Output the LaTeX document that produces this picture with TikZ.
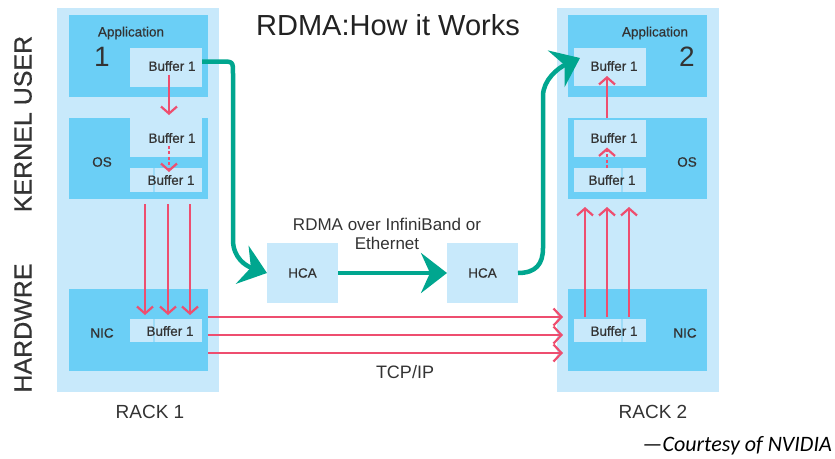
\documentclass[tikz,border=0pt]{standalone}
\usepackage{fontspec}
\setmainfont{Liberation Sans}
\newfontfamily\medfont[FakeBold=0.5]{Liberation Sans}
\newfontfamily\calfont{Carlito}
\usetikzlibrary{arrows.meta}
\definecolor{rackblue}{HTML}{C8E9FB}
\definecolor{layerblue}{HTML}{6BCFF6}
\definecolor{bufblue}{HTML}{C8E9FB}
\definecolor{seamblue}{HTML}{9EDCF8}
\definecolor{flowteal}{HTML}{00A68F}
\definecolor{copyred}{HTML}{EE4E6F}
\definecolor{ink}{HTML}{333333}
\definecolor{darkink}{HTML}{222222}
\newcommand{\fsz}[1]{\fontsize{#1}{#1}\selectfont}

\begin{document}
\begin{tikzpicture}[x=1pt,y=-1pt,
  area/.style={draw=none, anchor=north west, inner sep=0pt, outer sep=0pt},
  rackbox/.style={area, fill=rackblue},
  layerbox/.style={area, fill=layerblue},
  bufbox/.style={area, fill=bufblue},
  hcabox/.style={area, fill=bufblue},
  smalltxt/.style={text=ink, font=\medfont\fsz{13.5}, inner sep=0pt},
  bigtxt/.style={text=ink, font=\fsz{18}, inner sep=0pt},
  sidetxt/.style={text=ink, font=\medfont\fsz{25}, inner sep=0pt, rotate=90},
  seam/.style={draw=seamblue, line width=1.2pt},
  copyflow/.style={draw=copyred, line width=2.2pt, -{Straight Barb[length=7pt,width=16pt]}},
  copydash/.style={copyflow, dash pattern=on 3pt off 2.5pt},
  wireflow/.style={draw=copyred, line width=2.2pt, -{Straight Barb[length=8pt,width=17pt]}},
  rdmaflow/.style={draw=flowteal, line width=4.5pt, -{Stealth[length=26pt,width=40pt,inset=9pt]}}
]
\useasboundingbox[fill=white] (0,0) rectangle (835,458);

% title
\node[text=darkink, font=\fsz{29}, inner sep=0pt] (title) at (388,25) {RDMA:How it Works};

% side labels
\node[sidetxt] (kuser) at (23,124) {KERNEL USER};
\node[sidetxt] (hw) at (23,328) {HARDWRE};

% ---------- rack 1 ----------
\node[rackbox, minimum width=162pt, minimum height=384pt] (rack1) at (57,8) {};
\node[layerbox, minimum width=139pt, minimum height=82pt] (app1) at (69,15) {};
\node[layerbox, minimum width=139pt, minimum height=81pt] (os1) at (69,118) {};
\node[layerbox, minimum width=139pt, minimum height=82pt] (nic1) at (69,289) {};
\node[bufbox, minimum width=72pt, minimum height=39pt] (appbuf1) at (130,48) {};
\node[bufbox, minimum width=72pt, minimum height=39pt] (osbuf1a) at (130,118) {};
\node[bufbox, minimum width=72pt, minimum height=24pt] (osbuf1b) at (130,168) {};
\node[bufbox, minimum width=72pt, minimum height=23pt] (nicbuf1) at (130,319) {};
\draw[seam] (154,0 |- osbuf1b.north) -- (154,0 |- osbuf1b.south);
\draw[seam] (154,0 |- nicbuf1.north) -- (154,0 |- nicbuf1.south);

\node[smalltxt] (applbl1) at (131,33) {Application};
\node[text=ink, font=\fsz{28}, inner sep=0pt] (appno1) at (102,57) {1};
\node[smalltxt] (oslbl1) at (102,162) {OS};
\node[smalltxt] (niclbl1) at (102,333) {NIC};
\node[smalltxt] (appbuftxt1) at (172,66) {Buffer 1};
\node[smalltxt] (osbuftxta1) at (172,138) {Buffer 1};
\node[smalltxt] (osbuftxtb1) at (171,180) {Buffer 1};
\node[smalltxt] (nicbuftxt1) at (170,331) {Buffer 1};
\node[text=ink, font=\fsz{19}, inner sep=0pt] (rack1lbl) at (150,412) {RACK 1};

% ---------- rack 2 ----------
\node[rackbox, minimum width=162pt, minimum height=384pt] (rack2) at (557,8) {};
\node[layerbox, minimum width=139pt, minimum height=82pt] (app2) at (568,15) {};
\node[layerbox, minimum width=139pt, minimum height=81pt] (os2) at (568,118) {};
\node[layerbox, minimum width=139pt, minimum height=82pt] (nic2) at (568,289) {};
\node[bufbox, minimum width=72pt, minimum height=38pt] (appbuf2) at (574,48) {};
\node[bufbox, minimum width=72pt, minimum height=37pt] (osbuf2a) at (574,120) {};
\node[bufbox, minimum width=72pt, minimum height=24pt] (osbuf2b) at (574,168) {};
\node[bufbox, minimum width=72pt, minimum height=23pt] (nicbuf2) at (574,319) {};
\draw[seam] (622,0 |- osbuf2b.north) -- (622,0 |- osbuf2b.south);
\draw[seam] (622,0 |- nicbuf2.north) -- (622,0 |- nicbuf2.south);

\node[smalltxt] (applbl2) at (655,33) {Application};
\node[text=ink, font=\fsz{28}, inner sep=0pt] (appno2) at (687,57) {2};
\node[smalltxt] (oslbl2) at (687,162) {OS};
\node[smalltxt] (niclbl2) at (685,333) {NIC};
\node[smalltxt] (appbuftxt2) at (614,66) {Buffer 1};
\node[smalltxt] (osbuftxta2) at (614,138) {Buffer 1};
\node[smalltxt] (osbuftxtb2) at (612,180) {Buffer 1};
\node[smalltxt] (nicbuftxt2) at (614,331) {Buffer 1};
\node[text=ink, font=\fsz{19}, inner sep=0pt] (rack2lbl) at (653,412) {RACK 2};

% ---------- host channel adapters ----------
\node[hcabox, minimum width=71pt, minimum height=60pt] (hca1) at (267,243) {};
\node[hcabox, minimum width=71pt, minimum height=60pt] (hca2) at (447,243) {};
\node[smalltxt] (hcatxt1) at (hca1.center) {HCA};
\node[smalltxt] (hcatxt2) at (hca2.center) {HCA};

% ---------- copies through the kernel (TCP/IP path) ----------
\draw[copyflow, shorten <=7pt, shorten >=3pt] (169,0 |- appbuf1.center) -- (169,0 |- os1.north);
\draw[copydash, shorten <=8pt, shorten >=8pt] (169,0 |- osbuf1a.center) -- (169,0 |- osbuf1b.center);
\foreach \xx in {145,168,190}
  \draw[copyflow, shorten <=5pt, shorten >=4pt] (\xx,0 |- os1.south) -- (\xx,0 |- nicbuf1.north);

\foreach \yy in {317,335,353}
  \draw[wireflow, shorten >=5pt] (nic1.east |- 0,\yy) -- (nic2.west |- 0,\yy);

\foreach \xx in {585,607,629}
  \draw[copyflow, shorten <=2pt, shorten >=8pt] (\xx,0 |- nicbuf2.north) -- (\xx,0 |- os2.south);
\draw[copydash, shorten >=9pt] (607,0 |- osbuf2b.north) -- (607,0 |- osbuf2a.center);
\draw[copyflow, shorten >=9pt] (607,0 |- os2.north) -- (607,0 |- appbuf2.center);

\node[bigtxt] (tcplbl) at (405,372) {TCP/IP};

% ---------- RDMA path ----------
\draw[rdmaflow] ([yshift=6pt]appbuf1.east) -- (221,61.5) .. controls (233,61.5) .. (233,74)
  -- (233,240) .. controls (233,258) and (246,266) .. (hca1.west);
\draw[rdmaflow] (hca1.east) -- (hca2.west);
\draw[rdmaflow] (hca2.east) .. controls (536,273) and (543,264) .. (543,248)
  -- (543,96) .. controls (543,80) and (558,68) .. ([xshift=6pt,yshift=9pt]appbuf2.west);

\node[text=ink, font=\fsz{17}, inner sep=0pt, align=center] (rdmalbl) at (387,234)
  {RDMA over InfiniBand or\\[2pt]Ethernet};

% credit line
\node[anchor=base east, text=black, font=\calfont\itshape\fsz{22}, inner sep=0pt] (credit) at (832,451)
  {—Courtesy of NVIDIA};
\end{tikzpicture}
\end{document}
